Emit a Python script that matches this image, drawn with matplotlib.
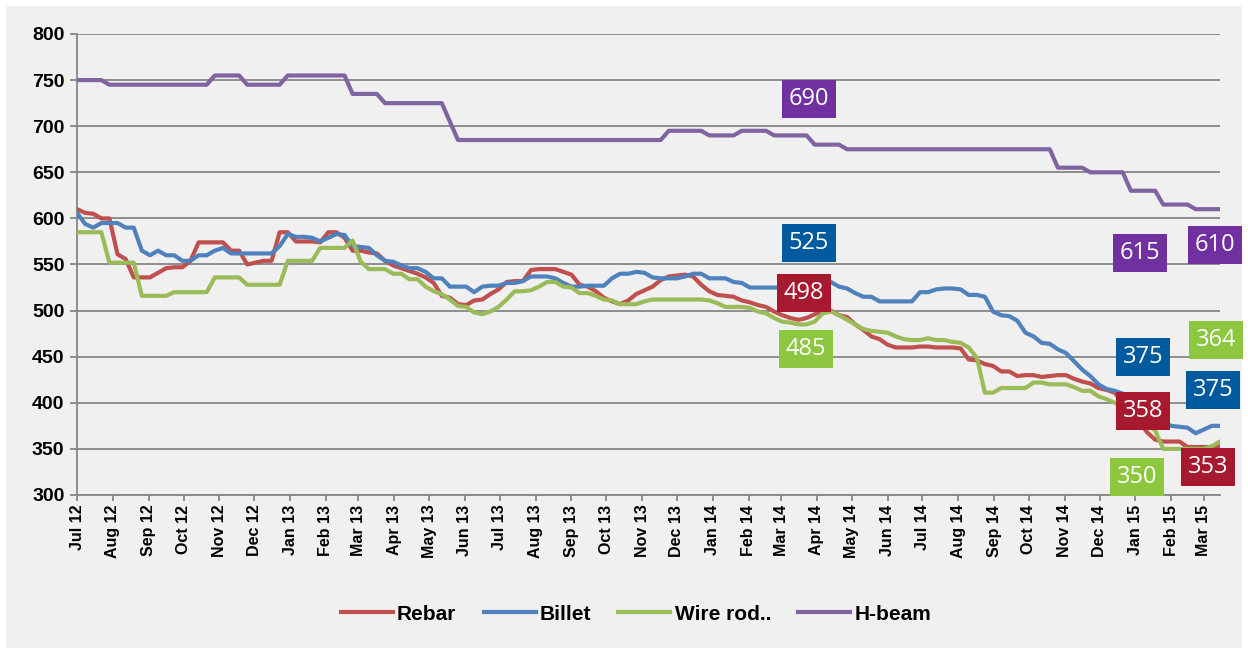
import matplotlib
matplotlib.use('Agg')
import matplotlib.pyplot as plt
import matplotlib.dates as mdates
from matplotlib.patches import Rectangle
import pandas as pd

# weekly prices, Jul 2012 - Mar 2015
weeks = pd.date_range('2012-07-06', periods=142, freq='7D')

rebar = [610, 606, 605, 600, 600, 561, 556, 536, 536, 536,
         541, 546, 547, 547, 554, 574, 574, 574, 574, 565,
         565, 550, 552, 554, 554, 585, 585, 575, 575, 575,
         574, 585, 585, 579, 565, 565, 563, 562, 554, 549,
         546, 543, 540, 536, 530, 516, 514, 507, 506, 511,
         512, 518, 523, 531, 532, 532, 544, 545, 545, 545,
         542, 539, 528, 526, 521, 514, 510, 507, 511, 518,
         522, 526, 533, 537, 538, 539, 537, 528, 521, 517,
         516, 515, 511, 509, 506, 504, 499, 495, 492, 490,
         492, 496, 500, 500, 495, 493, 485, 479, 472, 469,
         463, 460, 460, 460, 461, 461, 460, 460, 460, 459,
         447, 446, 442, 440, 434, 434, 429, 430, 430, 428,
         429, 430, 430, 426, 423, 421, 416, 414, 411, 400,
         390, 380, 368, 360, 358, 358, 358, 352, 352, 352,
         352, 353]

billet = [606, 594, 590, 595, 595, 595, 590, 590, 565, 560,
          565, 560, 560, 554, 554, 560, 560, 565, 568, 562,
          562, 562, 562, 562, 562, 570, 583, 580, 580, 579,
          575, 579, 583, 582, 570, 569, 568, 560, 554, 553,
          549, 546, 546, 542, 535, 535, 526, 526, 526, 520,
          526, 527, 527, 530, 530, 532, 537, 537, 537, 535,
          530, 526, 526, 527, 527, 527, 535, 540, 540, 542,
          541, 536, 535, 535, 535, 537, 540, 540, 535, 535,
          535, 531, 530, 525, 525, 525, 525, 525, 525, 525,
          525, 528, 532, 531, 526, 524, 519, 515, 515, 510,
          510, 510, 510, 510, 520, 520, 523, 524, 524, 523,
          517, 517, 515, 499, 495, 494, 489, 476, 472, 465,
          464, 458, 454, 445, 436, 429, 420, 415, 413, 410,
          405, 398, 390, 383, 378, 375, 374, 373, 367, 371,
          375, 375]

wire_rod = [585, 585, 585, 585, 552, 552, 552, 552, 516, 516,
            516, 516, 520, 520, 520, 520, 520, 536, 536, 536,
            536, 528, 528, 528, 528, 528, 554, 554, 554, 554,
            568, 568, 568, 568, 576, 553, 545, 545, 545, 540,
            540, 534, 534, 526, 521, 518, 512, 505, 504, 498,
            496, 499, 504, 512, 521, 521, 522, 526, 531, 531,
            526, 525, 519, 519, 516, 512, 511, 507, 507, 507,
            510, 512, 512, 512, 512, 512, 512, 512, 511, 508,
            504, 504, 504, 503, 499, 497, 492, 488, 487, 485,
            485, 488, 497, 499, 495, 490, 485, 480, 478, 477,
            476, 472, 469, 468, 468, 470, 468, 468, 466, 465,
            460, 449, 411, 411, 416, 416, 416, 416, 422, 422,
            420, 420, 420, 417, 413, 413, 407, 404, 400, 396,
            390, 384, 377, 370, 350, 350, 350, 350, 350, 350,
            353, 358]

h_beam = [750, 750, 750, 750, 745, 745, 745, 745, 745, 745,
          745, 745, 745, 745, 745, 745, 745, 755, 755, 755,
          755, 745, 745, 745, 745, 745, 755, 755, 755, 755,
          755, 755, 755, 755, 735, 735, 735, 735, 725, 725,
          725, 725, 725, 725, 725, 725, 705, 685, 685, 685,
          685, 685, 685, 685, 685, 685, 685, 685, 685, 685,
          685, 685, 685, 685, 685, 685, 685, 685, 685, 685,
          685, 685, 685, 695, 695, 695, 695, 695, 690, 690,
          690, 690, 695, 695, 695, 695, 690, 690, 690, 690,
          690, 680, 680, 680, 680, 675, 675, 675, 675, 675,
          675, 675, 675, 675, 675, 675, 675, 675, 675, 675,
          675, 675, 675, 675, 675, 675, 675, 675, 675, 675,
          675, 655, 655, 655, 655, 650, 650, 650, 650, 650,
          630, 630, 630, 630, 615, 615, 615, 615, 610, 610,
          610, 610]

series_names = ['Rebar', 'Billet', 'Wire rod..', 'H-beam']
series_colors = ['#C0504D', '#4F81BD', '#9BBB59', '#8064A2']

# value call-outs (text, box colour, centre in pixels)
callout_text = ['690', '525', '498', '485', '615', '610',
                '375', '375', '364', '358', '353', '350']
callout_color = ['#7030A0', '#005A9E', '#A6192E', '#8DC63F', '#7030A0', '#7030A0',
                 '#005A9E', '#005A9E', '#8DC63F', '#A6192E', '#A6192E', '#8DC63F']
callout_px = [(809, 99), (809, 243), (804, 293), (806, 349), (1140, 253), (1215, 245),
              (1143, 357), (1213, 390), (1216, 340), (1143, 411), (1208, 467), (1137, 477)]

W, H = 1248, 649
grid_col = '#868686'

fig = plt.figure(figsize=(W / 100, H / 100), dpi=100)
fig.patch.set_facecolor('white')
fig.patches.append(Rectangle((6 / W, 1 / H), 1236 / W, 642 / H, transform=fig.transFigure,
                             facecolor='#F0F0F0', edgecolor='none', zorder=-10))

ax = fig.add_axes([77 / W, 1 - 495 / H, 1143 / W, 461 / H])
ax.set_facecolor('none')

for vals, name, col in zip([rebar, billet, wire_rod, h_beam], series_names, series_colors):
    ax.plot(weeks, vals, color=col, lw=3, label=name, solid_joinstyle='round', zorder=3)

ax.set_ylim(300, 800)
ax.set_yticks(range(300, 801, 50))
ax.set_xlim(weeks[0], weeks[-1])
month_ticks = [weeks[0] + pd.DateOffset(months=k) for k in range(33)]
ax.set_xticks(month_ticks)
ax.set_xticklabels([d.strftime('%b %y') for d in month_ticks], rotation=90,
                   fontsize=11.5, fontweight='bold', family='Liberation Sans')
for lab in ax.get_yticklabels():
    lab.set_fontsize(14)
    lab.set_fontweight('bold')
    lab.set_family('Liberation Sans')

ax.grid(axis='y', color=grid_col, lw=1.3, zorder=1)
ax.set_axisbelow(True)
for s in ['top', 'right']:
    ax.spines[s].set_visible(False)
for s in ['left', 'bottom']:
    ax.spines[s].set_color(grid_col)
    ax.spines[s].set_linewidth(1.3)
ax.tick_params(axis='y', length=5, color=grid_col, width=1.3, pad=4)
ax.tick_params(axis='x', length=4, color=grid_col, width=1.3, pad=3)

fig.legend(loc='center', bbox_to_anchor=(636 / W, 1 - 614 / H), ncol=4, frameon=False,
           prop={'family': 'Liberation Sans', 'weight': 'bold', 'size': 15},
           handlelength=2.5, handletextpad=0.2, columnspacing=1.3)

for txt, col, (px, py) in zip(callout_text, callout_color, callout_px):
    fig.text(px / W, 1 - py / H, txt, ha='center', va='center', color='white',
             fontsize=17, family='Open Sans',
             bbox=dict(boxstyle='square,pad=0.3', facecolor=col, edgecolor='none'))

fig.savefig('out.png', dpi=100, facecolor=fig.get_facecolor())
